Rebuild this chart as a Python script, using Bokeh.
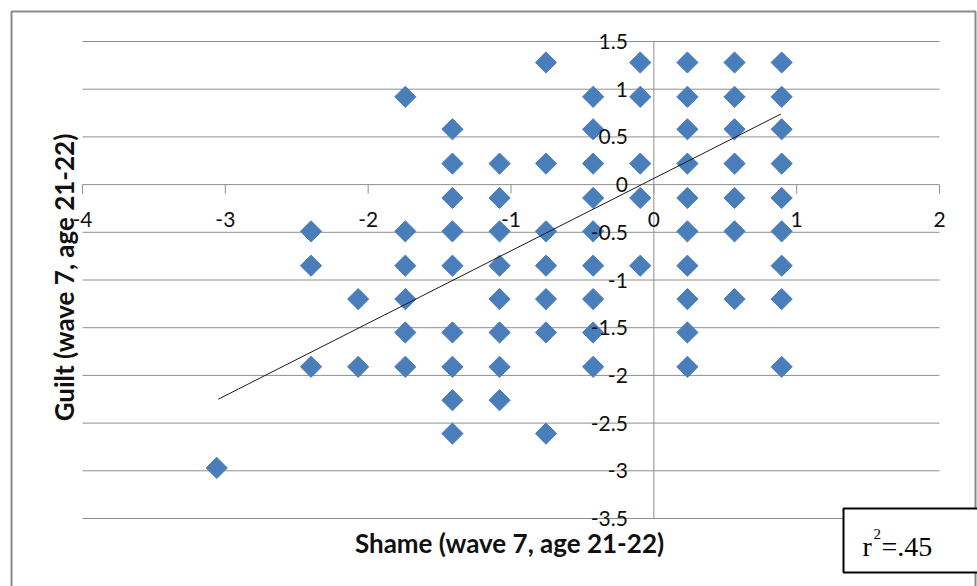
import numpy as np
from bokeh.plotting import figure
from bokeh.models import Range1d
from bokeh.core.properties import value
from bokeh.embed import file_html
from bokeh.resources import INLINE

# ---------------- data ----------------
shame = [
    -3.06,
    -2.40, -2.40, -2.40,
    -2.07, -2.07,
    -1.74, -1.74, -1.74, -1.74, -1.74, -1.74,
    -1.41, -1.41, -1.41, -1.41, -1.41, -1.41, -1.41, -1.41, -1.41,
    -1.08, -1.08, -1.08, -1.08, -1.08, -1.08, -1.08, -1.08,
    -0.755, -0.755, -0.755, -0.755, -0.755, -0.755, -0.755,
    -0.425, -0.425, -0.425, -0.425, -0.425, -0.425, -0.425, -0.425, -0.425,
    -0.095, -0.095, -0.095, -0.095, -0.095,
    0.235, 0.235, 0.235, 0.235, 0.235, 0.235, 0.235, 0.235, 0.235, 0.235,
    0.565, 0.565, 0.565, 0.565, 0.565, 0.565, 0.565,
    0.895, 0.895, 0.895, 0.895, 0.895, 0.895, 0.895, 0.895, 0.895,
]
guilt = [
    -2.97,
    -0.49, -0.85, -1.91,
    -1.20, -1.91,
    0.92, -0.49, -0.85, -1.20, -1.55, -1.91,
    0.58, 0.22, -0.14, -0.49, -0.85, -1.55, -1.91, -2.26, -2.61,
    0.22, -0.14, -0.49, -0.85, -1.20, -1.55, -1.91, -2.26,
    1.28, 0.22, -0.49, -0.85, -1.20, -1.55, -2.61,
    0.92, 0.58, 0.22, -0.14, -0.49, -0.85, -1.20, -1.55, -1.91,
    1.28, 0.92, 0.22, -0.14, -0.85,
    1.28, 0.92, 0.58, 0.22, -0.14, -0.49, -0.85, -1.20, -1.55, -1.91,
    1.28, 0.92, 0.58, 0.22, -0.14, -0.49, -1.20,
    1.28, 0.92, 0.58, 0.22, -0.14, -0.49, -0.85, -1.20, -1.91,
]
trend_x = [-3.05, 0.89]
trend_y = [-2.25, 0.74]

x_ticks = [-4, -3, -2, -1, 0, 1, 2]
x_tick_labels = ["-4", "-3", "-2", "-1", "0", "1", "2"]
y_ticks = [1.5, 1.0, 0.5, 0.0, -0.5, -1.0, -1.5, -2.0, -2.5, -3.0, -3.5]
y_tick_labels = ["1.5", "1", "0.5", "0", "-0.5", "-1", "-1.5", "-2", "-2.5", "-3", "-3.5"]

x_title = "Shame (wave 7, age 21-22)"
y_title = "Guilt (wave 7, age 21-22)"
r2_parts = ["r", "2", "=.45"]   # r squared = .45

# ---------------- geometry ----------------
W, H = 977, 586
PX_L, PX_R = 82, 939     # pixel columns of x = -4 and x = 2
PY_T, PY_B = 41, 518     # pixel rows of y = 1.5 and y = -3.5
XMIN, XMAX = -4.0, 2.0
YMIN, YMAX = -3.5, 1.5
kx = (XMAX - XMIN) / (PX_R - PX_L)
ky = (YMAX - YMIN) / (PY_B - PY_T)
X0 = XMIN - PX_L * kx
X1 = XMAX + (W - PX_R) * kx
Y1 = YMAX + PY_T * ky
Y0 = YMIN - (H - PY_B) * ky


def dx(px):
    return X0 + px * kx


def dy(py):
    return Y1 - py * ky


p = figure(width=W, height=H, x_range=Range1d(X0, X1), y_range=Range1d(Y0, Y1),
           output_backend="svg", toolbar_location=None,
           x_axis_location=None, y_axis_location=None,
           min_border=0, min_border_left=0, min_border_right=0,
           min_border_top=0, min_border_bottom=0)
p.grid.visible = False
p.outline_line_color = None
p.background_fill_color = "white"
p.border_fill_color = "white"

GRID = "#8f8f8f"
FONT = "Lato"
INK = "#111111"

# chart border
p.quad(left=[dx(11)], right=[dx(975)], top=[dy(11)], bottom=[dy(H + 10)],
       fill_color=None, line_color="#8a8a8a", line_width=2)

# horizontal gridlines (incl. x axis at 0)
p.segment(x0=[XMIN] * len(y_ticks), x1=[XMAX] * len(y_ticks), y0=y_ticks, y1=y_ticks,
          line_color=GRID, line_width=1)
# vertical axis at x = 0
p.segment(x0=[0], x1=[0], y0=[YMIN], y1=[YMAX], line_color=GRID, line_width=1)
# x tick marks
p.segment(x0=x_ticks, x1=x_ticks, y0=[0] * len(x_ticks), y1=[-9 * ky] * len(x_ticks),
          line_color=GRID, line_width=1)

# points
p.scatter(shame, guilt, marker="square", angle=np.pi / 4, size=15,
          fill_color="#4a7ebb", line_color="#4a7ebb", line_width=1)

# trendline
p.line(trend_x, trend_y, line_color="#1a1a1a", line_width=1)

# tick labels
p.text(x=x_ticks, y=[-35 * ky] * len(x_ticks), text=x_tick_labels,
       text_font=value(FONT), text_font_size="21px", text_color=INK,
       text_align="center", text_baseline="middle")
p.text(x=[-26 * kx] * len(y_ticks), y=y_ticks, text=y_tick_labels,
       text_font=value(FONT), text_font_size="21px", text_color=INK,
       text_align="right", text_baseline="middle")

# axis titles
p.text(x=[dx(509)], y=[dy(542)], text=[x_title], text_font=value(FONT),
       text_font_size="26px", text_font_style="bold", text_color=INK,
       text_align="center", text_baseline="middle")
p.text(x=[dx(63)], y=[dy(277)], text=[y_title], angle=np.pi / 2, text_font=value(FONT),
       text_font_size="26px", text_font_style="bold", text_color=INK,
       text_align="center", text_baseline="middle")

# r^2 box
p.quad(left=[dx(843)], right=[dx(985)], top=[dy(508)], bottom=[dy(572)],
       fill_color="white", line_color="black", line_width=2)
SERIF = value("Liberation Serif")
p.text(x=[dx(862)], y=[dy(546)], text=[r2_parts[0]], text_font=SERIF,
       text_font_size="28px", text_color="black", text_align="left", text_baseline="alphabetic")
p.text(x=[dx(873)], y=[dy(533)], text=[r2_parts[1]], text_font=SERIF,
       text_font_size="15px", text_color="black", text_align="left", text_baseline="alphabetic")
p.text(x=[dx(881)], y=[dy(546)], text=[r2_parts[2]], text_font=SERIF,
       text_font_size="28px", text_color="black", text_align="left", text_baseline="alphabetic")

open("out.html", "w").write(file_html(p, INLINE))
